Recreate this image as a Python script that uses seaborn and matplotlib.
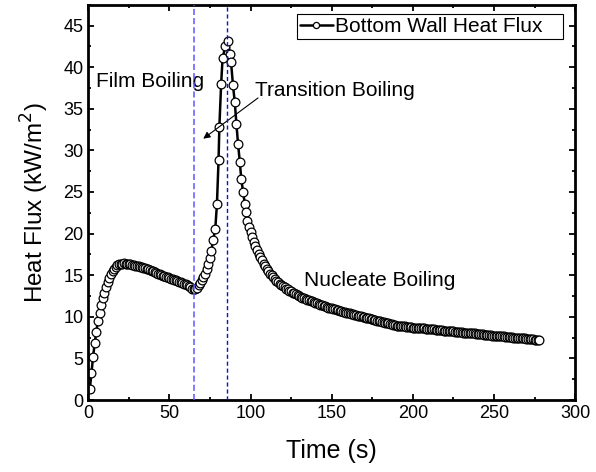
import matplotlib
matplotlib.use("Agg")
import matplotlib.pyplot as plt
import seaborn as sns
import pandas as pd

# --- datos ---
t_film = [1, 2, 3, 4, 5, 6, 7, 8, 9, 10, 11, 12, 13, 14, 15, 16, 17, 18, 19, 20,
          21, 22, 23, 24, 25, 26, 27, 28, 29, 30, 31, 32, 33, 34, 35, 36, 37, 38, 39, 40,
          41, 42, 43, 44, 45, 46, 47, 48, 49, 50, 51, 52, 53, 54, 55, 56, 57, 58, 59, 60,
          61, 62, 63, 64, 65]
q_film = [1.3, 3.3, 5.2, 6.8, 8.2, 9.5, 10.4, 11.4, 12.2, 12.9, 13.6, 14.2, 14.7, 15.1, 15.5,
          15.8, 16.0, 16.2, 16.3, 16.4, 16.4, 16.45, 16.4, 16.4, 16.35, 16.3, 16.25, 16.2, 16.15,
          16.1, 16.05, 16.0, 15.95, 15.9, 15.85, 15.8, 15.7, 15.6, 15.5, 15.45, 15.4, 15.3, 15.2,
          15.1, 15.0, 14.95, 14.9, 14.8, 14.75, 14.7, 14.6, 14.55, 14.45, 14.4, 14.3, 14.2, 14.15,
          14.05, 14.0, 13.9, 13.8, 13.7, 13.55, 13.4, 13.3]

t_trans = [66.0, 67.0, 68.0, 69.0, 70.0, 71.0, 72.0, 73.0, 74.0, 75.0, 75.8, 77.0, 78.3,
           79.3, 80.3, 80.8, 81.9, 82.8, 84.5, 86.0, 87.4, 88.0, 89.2, 90.3, 91.3, 92.3,
           93.4, 94.3, 95.4, 96.5]
q_trans = [13.3, 13.5, 13.8, 14.1, 14.4, 14.8, 15.2, 15.7, 16.4, 17.1, 17.9, 19.2, 20.6,
           23.5, 28.8, 32.8, 38.0, 41.1, 42.5, 43.2, 41.6, 40.6, 37.8, 35.8, 33.2, 30.8,
           28.6, 26.6, 25.0, 23.6]

t_nuc = [97, 98, 99, 100, 101, 102, 103, 104, 105, 106, 107, 108, 109, 110, 111, 112, 113,
         114, 115, 116, 117, 118, 119, 120, 121, 122, 123, 124, 125, 126, 127, 128, 129, 130,
         131, 132, 133, 134, 135, 136, 137, 138, 139, 140, 141, 142, 143, 144, 145, 146, 147,
         148, 149, 150, 151, 152, 153, 154, 155, 156, 157, 158, 159, 160, 161, 162, 163, 164,
         165, 166, 167, 168, 169, 170, 171, 172, 173, 174, 175, 176, 177, 178, 179, 180, 181,
         182, 183, 184, 185, 186, 187, 188, 189, 190, 191, 192, 193, 194, 195, 196, 197, 198,
         199, 200, 201, 202, 203, 204, 205, 206, 207, 208, 209, 210, 211, 212, 213, 214, 215,
         216, 217, 218, 219, 220, 221, 222, 223, 224, 225, 226, 227, 228, 229, 230, 231, 232,
         233, 234, 235, 236, 237, 238, 239, 240, 241, 242, 243, 244, 245, 246, 247, 248, 249,
         250, 251, 252, 253, 254, 255, 256, 257, 258, 259, 260, 261, 262, 263, 264, 265, 266,
         267, 268, 269, 270, 271, 272, 273, 274, 275, 276, 277, 278]
q_nuc = [22.6, 21.5, 20.8, 20.2, 19.6, 19.0, 18.5, 18.0, 17.6, 17.2, 16.8, 16.4, 16.1, 15.8,
         15.5, 15.2, 15.0, 14.75, 14.55, 14.35, 14.15, 14.0, 13.85, 13.7, 13.55, 13.4, 13.3,
         13.15, 13.05, 12.9, 12.8, 12.7, 12.6, 12.5, 12.4, 12.3, 12.25, 12.15, 12.05, 12.0,
         11.9, 11.85, 11.75, 11.7, 11.6, 11.55, 11.45, 11.4, 11.3, 11.25, 11.2, 11.1, 11.05,
         11.0, 10.95, 10.9, 10.85, 10.8, 10.7, 10.65, 10.6, 10.55, 10.5, 10.45, 10.4, 10.35,
         10.3, 10.25, 10.2, 10.15, 10.1, 10.05, 10.0, 9.95, 9.9, 9.85, 9.8, 9.75, 9.7, 9.65,
         9.6, 9.55, 9.5, 9.45, 9.4, 9.35, 9.3, 9.25, 9.2, 9.15, 9.1, 9.05, 9.0, 8.95, 8.95,
         8.9, 8.9, 8.85, 8.85, 8.8, 8.8, 8.75, 8.75, 8.7, 8.7, 8.7, 8.65, 8.65, 8.6, 8.6, 8.6,
         8.55, 8.55, 8.55, 8.5, 8.5, 8.5, 8.45, 8.45, 8.4, 8.4, 8.4, 8.35, 8.35, 8.3, 8.3, 8.3,
         8.25, 8.25, 8.2, 8.2, 8.2, 8.15, 8.15, 8.1, 8.1, 8.1, 8.05, 8.05, 8.0, 8.0, 8.0, 7.95,
         7.95, 7.9, 7.9, 7.9, 7.85, 7.85, 7.8, 7.8, 7.8, 7.75, 7.75, 7.75, 7.7, 7.7, 7.7, 7.65,
         7.65, 7.6, 7.6, 7.6, 7.55, 7.55, 7.5, 7.5, 7.5, 7.45, 7.45, 7.4, 7.4, 7.4, 7.35, 7.35,
         7.3, 7.3, 7.3, 7.25, 7.25, 7.2, 7.2]

t_lines = [65, 85.8]
regiones = ["Film Boiling", "Transition Boiling", "Nucleate Boiling"]

df = pd.DataFrame({"time": t_film + t_trans + t_nuc,
                   "flux": q_film + q_trans + q_nuc})

sns.set_theme(style="ticks")
plt.rcParams["font.family"] = ["Liberation Sans", "DejaVu Sans"]
plt.rcParams["text.color"] = "black"
plt.rcParams["axes.labelcolor"] = "black"

fig, ax = plt.subplots(figsize=(5.96, 4.72), dpi=100)
fig.subplots_adjust(left=0.148, right=0.965, top=0.99, bottom=0.1525)

sns.lineplot(data=df, x="time", y="flux", sort=False, estimator=None, ax=ax,
             color="black", linewidth=1.8, marker="o", markersize=6.3,
             markerfacecolor="white", markeredgecolor="black", markeredgewidth=0.9,
             label="Bottom Wall Heat Flux   ")

ax.axvline(t_lines[0], color="#5a5aff", ls=(0, (4, 2)), lw=1.1, zorder=4)
ax.axvline(t_lines[1], color="#1010d0", ls=(0, (3, 2)), lw=1.0, zorder=4)

ax.text(4.9, 37.6, regiones[0], fontsize=15, ha="left", va="baseline")
ax.text(102.9, 36.5, regiones[1], fontsize=15, ha="left", va="baseline")
ax.text(132.7, 13.7, regiones[2], fontsize=15, ha="left", va="baseline")
ax.annotate("", xy=(69.5, 31.2), xytext=(106, 36.5),
            arrowprops=dict(arrowstyle="-|>", color="black", lw=0.8, mutation_scale=10))

ax.set_xlim(0, 300)
ax.set_ylim(0, 47.5)
ax.set_xticks([0, 50, 100, 150, 200, 250, 300])
ax.set_xticks([25, 75, 125, 175, 225, 275], minor=True)
ax.set_yticks([0, 5, 10, 15, 20, 25, 30, 35, 40, 45])
ax.set_yticks([2.5, 7.5, 12.5, 17.5, 22.5, 27.5, 32.5, 37.5, 42.5, 47.5], minor=True)
ax.tick_params(which="both", direction="in", top=True, right=True, width=1.3,
               labelsize=13, colors="black")
ax.tick_params(which="major", length=4.5)
ax.tick_params(which="minor", length=2.5)
for s in ax.spines.values():
    s.set_linewidth(2)
    s.set_color("black")

ax.set_xlabel("Time (s)", fontsize=18, labelpad=12)
ax.set_ylabel("Heat Flux (kW/m$^2$)", fontsize=17.5, labelpad=9)

leg = ax.legend(loc="upper right", bbox_to_anchor=(0.975, 0.976), borderaxespad=0,
                fontsize=15, frameon=True, fancybox=False, framealpha=1,
                handlelength=1.6, handletextpad=0.1, borderpad=0.15, markerscale=0.7)
leg.get_frame().set_edgecolor("black")
leg.get_frame().set_linewidth(0.8)

plt.savefig("out.png", dpi=100)
plt.close()
